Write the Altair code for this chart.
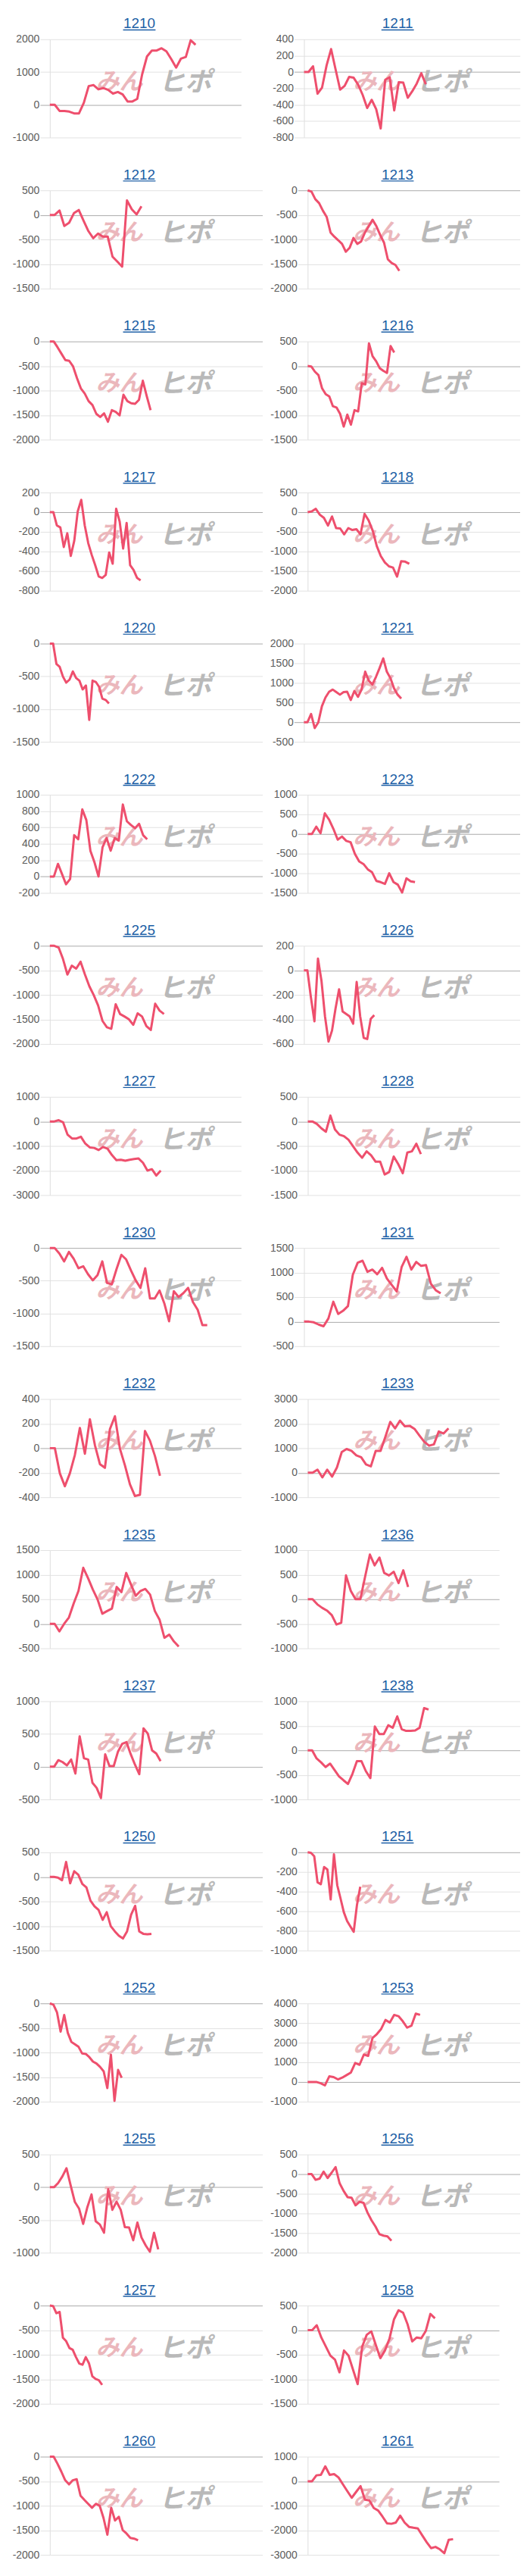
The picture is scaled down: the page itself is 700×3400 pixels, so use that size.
import altair as alt
import pandas as pd

# ---------------- data ----------------
CODES = ["1210", "1211", "1212", "1213", "1215", "1216", "1217", "1218",
         "1220", "1221", "1222", "1223", "1225", "1226", "1227", "1228",
         "1230", "1231", "1232", "1233", "1235", "1236", "1237", "1238",
         "1250", "1251", "1252", "1253", "1255", "1256", "1257", "1258",
         "1260", "1261"]

Y_1210 = [0, 0, -190, -190, -210, -265, -265, 60, 570, 600, 470, 510, 455, 340, 390, 315, 100, 100, 180, 925,
          1475, 1655, 1655, 1725, 1630, 1395, 1135, 1410, 1460, 1970, 1830]
Y_1211 = [0, 0, 70, -265, -190, 80, 280, 30, -215, -170, -60, -70, -155, -280, -440, -340, -455, -690, -95, -65,
          -470, -125, -130, -315, -235, -140, -15, -150]
Y_1212 = [0, 0, 90, -225, -160, 35, 100, -120, -330, -475, -380, -440, -440, -850, -950, -1055, 295, 115, 10, 175]
Y_1213 = [0, -25, -180, -260, -415, -545, -860, -945, -1015, -1090, -1250, -1170, -970, -1090, -1040, -860, -730,
          -600, -730, -910, -1065, -1405, -1480, -1520, -1640]
Y_1215 = [0, 0, -120, -250, -380, -395, -510, -745, -955, -1060, -1215, -1295, -1475, -1540, -1465, -1635, -1400,
          -1435, -1505, -1085, -1215, -1260, -1270, -1190, -800, -1110, -1400]
Y_1216 = [0, -10, -115, -185, -455, -575, -620, -820, -845, -975, -1235, -990, -1195, -900, -925, -350, -375, 460,
          200, 95, -45, -100, -140, 405, 275]
Y_1217 = [0, 0, -135, -155, -355, -215, -445, -290, 10, 125, -135, -315, -435, -540, -655, -670, -640, -410, -525,
          35, -95, -370, -110, -540, -590, -670, -695]
Y_1218 = [0, 20, 85, -65, -145, -340, -110, -405, -415, -565, -405, -455, -435, -565, -45, -210, -470, -860, -1120,
          -1280, -1380, -1410, -1640, -1250, -1260, -1315]
Y_1220 = [0, 0, -310, -355, -505, -595, -550, -425, -525, -565, -700, -640, -1165, -565, -585, -660, -840, -860, -915]
Y_1221 = [0, 0, 210, -150, -5, 405, 630, 775, 830, 765, 700, 765, 775, 565, 795, 645, 830, 1285, 1055, 960, 1155,
          1380, 1625, 1285, 1120, 860, 700, 600]
Y_1222 = [0, 0, 155, 30, -95, -30, 505, 455, 820, 690, 315, 175, 0, 360, 470, 315, 470, 440, 880, 675, 630, 590,
          645, 505, 455]
Y_1223 = [0, 0, 185, 20, 525, 365, 130, -145, -65, -175, -210, -505, -700, -765, -900, -975, -1195, -1225, -1270,
          -1000, -1225, -1290, -1490, -1130, -1205, -1225]
Y_1225 = [0, 0, -35, -270, -585, -405, -465, -325, -585, -825, -1005, -1215, -1530, -1660, -1690, -1190, -1390,
          -1440, -1495, -1610, -1375, -1440, -1635, -1715, -1180, -1320, -1390]
Y_1226 = [0, 0, -220, -415, 95, -85, -375, -580, -490, -310, -155, -335, -355, -375, -435, -95, -375, -550, -560,
          -395, -365]
Y_1227 = [0, 0, 50, -40, -540, -695, -695, -625, -905, -1060, -1080, -1165, -1040, -1110, -1370, -1580, -1560,
          -1600, -1560, -1530, -1510, -1685, -2000, -1945, -2205, -2000]
Y_1228 = [0, 0, -50, -140, -210, 120, -165, -270, -300, -375, -505, -635, -740, -610, -690, -820, -820, -1080,
          -1030, -715, -870, -1055, -635, -610, -455, -665]
Y_1230 = [0, 0, -85, -205, -60, -165, -310, -280, -400, -495, -415, -205, -535, -555, -320, -105, -175, -340, -495,
          -610, -310, -770, -770, -650, -845, -1120, -660, -750, -690, -610, -825, -945, -1180, -1180]
Y_1231 = [0, 0, -15, -60, -95, 65, 405, 155, 220, 315, 955, 1200, 1240, 1015, 1060, 965, 1095, 875, 745, 615, 1110,
          1320, 1060, 1215, 1135, 1150, 770, 640, 575]
Y_1232 = [0, 0, -205, -310, -205, -55, 165, -45, 235, 25, -130, -160, 155, 260, -5, -140, -295, -390, -380, 140,
          60, -65, -225]
Y_1233 = [0, 0, 125, -190, 125, -160, 210, 840, 965, 890, 705, 630, 335, 260, 890, 890, 1470, 2070, 1805, 2120,
          1890, 1910, 1785, 1520, 1260, 1100, 1155, 1680, 1595, 1805]
Y_1235 = [0, 0, -155, 0, 130, 415, 670, 1140, 930, 700, 495, 205, 260, 310, 750, 645, 1035, 800, 570, 670, 710,
          595, 260, 80, -285, -220, -360, -465]
Y_1236 = [0, 0, -105, -175, -230, -320, -515, -480, 485, 170, 0, 0, 460, 910, 690, 850, 535, 485, 560, 330, 590, 250]
Y_1237 = [0, 0, 100, 70, 20, 110, -105, 465, 130, 110, -245, -325, -480, 190, 10, 10, 230, 350, 375, 190, 30, -115,
          585, 505, 250, 200, 85]
Y_1238 = [0, 0, -165, -245, -340, -270, -400, -530, -610, -685, -480, -220, -220, -425, -565, 485, 330, 330, 510,
          460, 690, 430, 395, 395, 405, 460, 860, 830]
Y_1250 = [0, 0, -15, -70, 305, -130, 115, 45, -145, -215, -485, -600, -675, -875, -720, -1005, -1110, -1200, -1255,
          -1110, -770, -590, -1110, -1160, -1170, -1160]
Y_1251 = [0, -5, -40, -305, -325, -150, -175, -480, -20, -335, -470, -610, -700, -755, -810, -535, -350]
Y_1252 = [0, -25, -185, -575, -235, -600, -785, -835, -885, -1020, -1030, -1095, -1185, -1225, -1295, -1385, -1725,
          -1045, -1985, -1355, -1515]
Y_1253 = [0, 0, 0, -65, -170, 285, 250, 130, 220, 350, 480, 965, 875, 1395, 1330, 2240, 2435, 2700, 3155, 3025,
          3415, 3350, 3090, 2765, 2865, 3480, 3415]
Y_1255 = [0, 0, 65, 165, 290, 25, -225, -325, -560, -305, -110, -520, -570, -695, -30, -345, -220, -345, -610, -615,
          -810, -540, -770, -890, -985, -695, -950]
Y_1256 = [0, 0, -145, -115, 65, -100, 35, 180, -230, -425, -585, -600, -795, -705, -730, -980, -1175, -1335, -1530,
          -1565, -1585, -1695]
Y_1257 = [0, -10, -155, -130, -655, -725, -865, -900, -1050, -1180, -1205, -1050, -1180, -1440, -1495, -1520, -1615]
Y_1258 = [0, 0, 100, -150, -335, -520, -600, -860, -415, -520, -810, -1100, -335, -95, -25, -305, -570, -415, -175,
          220, 405, 355, 115, -230, -150, -165, -15, 330, 240]
Y_1260 = [0, 0, -145, -305, -480, -565, -480, -460, -795, -880, -960, -1040, -960, -1000, -1250, -1590, -1040,
          -1300, -1225, -1495, -1565, -1655, -1670, -1705]
Y_1261 = [0, 0, 240, 260, 605, 260, 290, 155, -125, -405, -675, -435, -200, -750, -780, -1090, -1195, -1445, -1715,
          -1735, -1685, -1405, -1685, -1860, -1895, -1925, -2205, -2485, -2725, -2675, -2775, -2935, -2390, -2360]

SERIES = [Y_1210, Y_1211, Y_1212, Y_1213, Y_1215, Y_1216, Y_1217, Y_1218,
          Y_1220, Y_1221, Y_1222, Y_1223, Y_1225, Y_1226, Y_1227, Y_1228,
          Y_1230, Y_1231, Y_1232, Y_1233, Y_1235, Y_1236, Y_1237, Y_1238,
          Y_1250, Y_1251, Y_1252, Y_1253, Y_1255, Y_1256, Y_1257, Y_1258,
          Y_1260, Y_1261]

# y-axis range and tick step of every panel
Y_MIN = [-1000, -800, -1500, -2000, -2000, -1500, -800, -2000,
         -1500, -500, -200, -1500, -2000, -600, -3000, -1500,
         -1500, -500, -400, -1000, -500, -1000, -500, -1000,
         -1500, -1000, -2000, -1000, -1000, -2000, -2000, -1500,
         -2000, -3000]
Y_MAX = [2000, 400, 500, 0, 0, 500, 200, 500,
         0, 2000, 1000, 1000, 0, 200, 1000, 500,
         0, 1500, 400, 3000, 1500, 1000, 1000, 1000,
         500, 0, 0, 4000, 500, 500, 0, 500,
         0, 1000]
Y_STEP = [1000, 200, 500, 500, 500, 500, 200, 500,
          500, 500, 200, 500, 500, 200, 1000, 500,
          500, 500, 200, 1000, 500, 500, 500, 500,
          500, 200, 500, 1000, 500, 500, 500, 500,
          500, 1000]
# share of the x axis covered by the series
COVER = [0.762, 0.564, 0.431, 0.432, 0.474, 0.408, 0.427, 0.479,
         0.278, 0.451, 0.458, 0.506, 0.537, 0.326, 0.58, 0.533,
         0.823, 0.70, 0.576, 0.735, 0.674, 0.524, 0.521, 0.57,
         0.478, 0.248, 0.338, 0.53, 0.51, 0.395, 0.246, 0.665,
         0.415, 0.76]

# ---------------- layout / style ----------------
WIDE = [False, True, True, True, True, True, True, True,
        True, True, True, True, True, True, False, True,
        False, False, False, False, False, False, True, True,
        True, True, True, True, True, True, True, False,
        True, False]
SHIFTED = {"1211", "1221", "1226", "1231"}

LINE_COLOR = "#ee4f6d"
TITLE_COLOR = "#1d5fa6"
FONT = "Liberation Sans"
PLOT_H = 130
LEFT_X = 66.0
ONE = pd.DataFrame({"a": [0]})


def panel(k, col):
    code = CODES[k]
    ys = SERIES[k]
    n = len(ys)
    df = pd.DataFrame({"i": list(range(n)), "v": ys})
    if col == 0:
        x0 = LEFT_X
        x1 = 347.5 if WIDE[k] else 319.3
        title_c = 184.5
        wm1, wm2 = 158.0, 245.0
    else:
        x0 = 402.0 if code in SHIFTED else 407.0
        x1 = 688.0 if WIDE[k] else 660.5
        title_c = 526.0
        wm1, wm2 = 498.0, 585.0
    w = x1 - x0
    xmax = (n - 1) / COVER[k]
    ticks = list(range(Y_MIN[k], Y_MAX[k] + 1, Y_STEP[k]))

    axis = alt.Axis(
        values=ticks, title=None, grid=True,
        gridColor={"condition": {"test": "datum.value === 0", "value": "#ababab"}, "value": "#e2e2e2"},
        tickColor={"condition": {"test": "datum.value === 0", "value": "#ababab"}, "value": "#e2e2e2"},
        tickSize=13, domain=True, domainColor="#dedede",
        labelFont=FONT, labelFontSize=14, labelColor="#5c5c5c", labelPadding=1,
        labelOverlap=False, labelExpr="'' + datum.value",
    )
    line = alt.Chart(df).mark_line(color=LINE_COLOR, strokeWidth=3, strokeJoin="round").encode(
        x=alt.X("i:Q", scale=alt.Scale(domain=[0, xmax], nice=False, zero=False), axis=None),
        y=alt.Y("v:Q", scale=alt.Scale(domain=[Y_MIN[k], Y_MAX[k]], nice=False, zero=False), axis=axis),
    )
    wm_a = alt.Chart(ONE).mark_text(
        text="みん", font="Noto Sans CJK JP", fontSize=31, fontWeight="bold", fontStyle="italic",
        color="#ebb7bc", align="center", baseline="middle",
    ).encode(x=alt.value(wm1 - x0), y=alt.value(57))
    wm_b = alt.Chart(ONE).mark_text(
        text="ヒポ", font="Noto Sans CJK JP", fontSize=35, fontWeight="bold", fontStyle="italic",
        color="#b9b9b9", align="center", baseline="middle",
    ).encode(x=alt.value(wm2 - x0), y=alt.value(57))
    title = alt.Chart(ONE).mark_text(
        text=code, font=FONT, fontSize=19, color=TITLE_COLOR, align="center", baseline="alphabetic",
    ).encode(x=alt.value(title_c - x0), y=alt.value(-14.4))
    underline = alt.Chart(ONE).mark_rule(color=TITLE_COLOR, strokeWidth=1.4).encode(
        x=alt.value(title_c - x0 - 21.5), x2=alt.value(title_c - x0 + 21.5), y=alt.value(-12.4)
    )
    chart = alt.layer(wm_a, wm_b, line, title, underline).properties(width=w, height=PLOT_H)
    return chart, x0, w


rows = []
for r in range(0, len(CODES), 2):
    left, lx0, lw = panel(r, 0)
    right, rx0, rw = panel(r + 1, 1)
    gap = rx0 - (lx0 + lw)
    rows.append(alt.hconcat(left, right, spacing=gap, bounds="flush"))

# with flush bounds a nested row counts as zero height, so the spacing is the full row pitch
chart = alt.vconcat(*rows, spacing=200, bounds="flush").properties(
    padding={"left": 8, "top": 9, "right": 5, "bottom": 5},
    background="white",
).configure_view(stroke=None)

chart.save("out.html", embed_options={"renderer": "svg", "actions": False})
